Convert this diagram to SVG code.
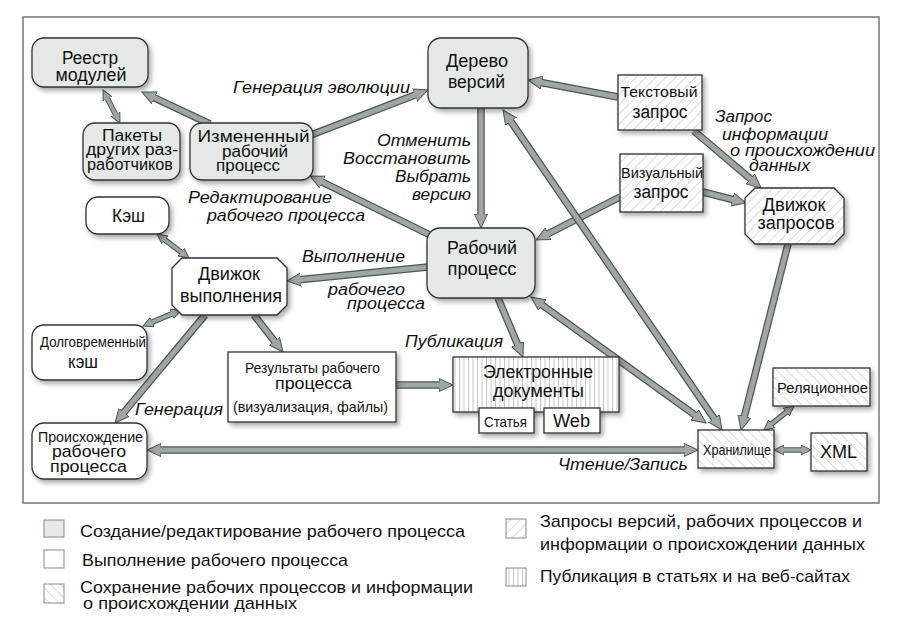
<svg xmlns="http://www.w3.org/2000/svg" width="900" height="618" viewBox="0 0 900 618">
<defs>
<style>
text{font-family:"Liberation Sans",Arial,sans-serif;fill:#111;}
.n{font-size:18px;text-anchor:middle;}
.nm{font-size:16px;text-anchor:middle;}
.ns{font-size:15px;text-anchor:middle;}
.lb{font-size:17px;font-style:italic;}
.lbs{font-size:16px;font-style:italic;}
.lg{font-size:17px;}
.box{stroke:#333;stroke-width:1.3;filter:url(#sh);}
.g{fill:#e4e8e6;}
.w{fill:#fff;}
.hq{fill:url(#hq);}
.hs{fill:url(#hs);}
.hp{fill:url(#hp);}
.ao{fill:none;stroke:#4e5652;stroke-width:7.5;}
.ai{fill:none;stroke:#9ea7a3;stroke-width:5;}
.so{fill:none;stroke:#4e5652;stroke-width:5.5;}
.si{fill:none;stroke:#9ea7a3;stroke-width:3.5;}
.lsq{stroke:#888;stroke-width:1;}
</style>
<filter id="sh" x="-20%" y="-20%" width="150%" height="160%">
<feDropShadow dx="2.5" dy="3" stdDeviation="2.5" flood-color="#000" flood-opacity="0.35"/>
</filter>
<pattern id="hq" width="7" height="7" patternUnits="userSpaceOnUse" patternTransform="rotate(45)">
<rect width="7" height="7" fill="#fff"/><line x1="0" y1="0" x2="0" y2="7" stroke="#b8b8b8" stroke-width="1"/>
</pattern>
<pattern id="hs" width="7" height="7" patternUnits="userSpaceOnUse" patternTransform="rotate(-45)">
<rect width="7" height="7" fill="#fff"/><line x1="0" y1="0" x2="0" y2="7" stroke="#b8b8b8" stroke-width="1"/>
</pattern>
<pattern id="hp" width="4.5" height="10" patternUnits="userSpaceOnUse">
<rect width="4.5" height="10" fill="#fff"/><line x1="0.5" y1="0" x2="0.5" y2="10" stroke="#c4c4c4" stroke-width="1"/>
</pattern>
<marker id="ah" markerUnits="userSpaceOnUse" markerWidth="16" markerHeight="16" refX="2" refY="7" orient="auto-start-reverse">
<path d="M0,0.5 L14,7 L0,13.5 z" fill="#9ea7a3" stroke="#4e5652" stroke-width="1"/>
</marker>
<marker id="as" markerUnits="userSpaceOnUse" markerWidth="12" markerHeight="12" refX="2" refY="5.5" orient="auto-start-reverse">
<path d="M0,0.5 L10,5.5 L0,10.5 z" fill="#9ea7a3" stroke="#4e5652" stroke-width="1"/>
</marker>
</defs>
<rect width="900" height="618" fill="#fff"/>
<rect x="23" y="17" width="856" height="486" fill="none" stroke="#777" stroke-width="1.5"/>

<g id="connectors">
<path class="ao" marker-end="url(#ah)" d="M210,124 L152.8,97.1"/><path class="ai" d="M210,124 L152.8,97.1"/>
<path class="so" marker-start="url(#as)" marker-end="url(#as)" d="M106.7,97.1 L116.3,115.9"/><path class="si" d="M106.7,97.1 L116.3,115.9"/>
<path class="ao" marker-end="url(#ah)" d="M311,135 L416.8,94.3"/><path class="ai" d="M311,135 L416.8,94.3"/>
<path class="ao" marker-end="url(#ah)" d="M430,235 L320.8,181.3"/><path class="ai" d="M430,235 L320.8,181.3"/>
<path class="ao" marker-end="url(#ah)" d="M481,108 L481,216"/><path class="ai" d="M481,108 L481,216"/>
<path class="ao" marker-end="url(#ah)" d="M618,97 L539.8,82.2"/><path class="ai" d="M618,97 L539.8,82.2"/>
<path class="ao" marker-end="url(#ah)" d="M694,131 L751.9,180.2"/><path class="ai" d="M694,131 L751.9,180.2"/>
<path class="ao" marker-end="url(#ah)" d="M620,197 L546.7,234.5"/><path class="ai" d="M620,197 L546.7,234.5"/>
<path class="ao" marker-end="url(#ah)" d="M703,192 L734.4,200"/><path class="ai" d="M703,192 L734.4,200"/>
<path class="ao" marker-start="url(#ah)" marker-end="url(#ah)" d="M509.8,119.9 L715.2,420.1"/><path class="ai" d="M509.8,119.9 L715.2,420.1"/>
<path class="ao" marker-start="url(#ah)" marker-end="url(#ah)" d="M540.7,304 L696.3,416"/><path class="ai" d="M540.7,304 L696.3,416"/>
<path class="ao" marker-end="url(#ah)" d="M788,244 L743.9,418.4"/><path class="ai" d="M788,244 L743.9,418.4"/>
<path class="so" marker-start="url(#as)" marker-end="url(#as)" d="M770.2,425 L787.8,411"/><path class="si" d="M770.2,425 L787.8,411"/>
<path class="so" marker-start="url(#as)" marker-end="url(#as)" d="M782,450 L803,450"/><path class="si" d="M782,450 L803,450"/>
<path class="ao" marker-start="url(#ah)" marker-end="url(#ah)" d="M159,450 L686,450"/><path class="ai" d="M159,450 L686,450"/>
<path class="ao" marker-end="url(#ah)" d="M428,267 L298.9,279.8"/><path class="ai" d="M428,267 L298.9,279.8"/>
<path class="ao" marker-end="url(#ah)" d="M498,298 L518.3,346"/><path class="ai" d="M498,298 L518.3,346"/>
<path class="ao" marker-end="url(#ah)" d="M396,385 L441,385"/><path class="ai" d="M396,385 L441,385"/>
<path class="ao" marker-end="url(#ah)" d="M254,315 L275.6,342.6"/><path class="ai" d="M254,315 L275.6,342.6"/>
<path class="ao" marker-end="url(#ah)" d="M205,315 L122.7,413.8"/><path class="ai" d="M205,315 L122.7,413.8"/>
<path class="so" marker-start="url(#as)" marker-end="url(#as)" d="M163.4,238.8 L182.6,253.2"/><path class="si" d="M163.4,238.8 L182.6,253.2"/>
<path class="so" marker-start="url(#as)" marker-end="url(#as)" d="M150.4,322.9 L173.6,313.1"/><path class="si" d="M150.4,322.9 L173.6,313.1"/>
</g>

<g id="labels">
<text class="lb" x="233" y="93" textLength="177" lengthAdjust="spacingAndGlyphs">Генерация эволюции</text>
<text class="lbs" x="377" y="146" textLength="94" lengthAdjust="spacingAndGlyphs">Отменить</text>
<text class="lbs" x="343" y="164" textLength="128" lengthAdjust="spacingAndGlyphs">Восстановить</text>
<text class="lbs" x="395" y="182" textLength="76" lengthAdjust="spacingAndGlyphs">Выбрать</text>
<text class="lbs" x="412" y="200" textLength="59" lengthAdjust="spacingAndGlyphs">версию</text>
<text class="lb" x="188" y="203" textLength="144" lengthAdjust="spacingAndGlyphs">Редактирование</text>
<text class="lb" x="207" y="221" textLength="158" lengthAdjust="spacingAndGlyphs">рабочего процесса</text>
<text class="lb" x="302" y="262" textLength="103" lengthAdjust="spacingAndGlyphs">Выполнение</text>
<text class="lbs" x="328" y="295" textLength="77" lengthAdjust="spacingAndGlyphs">рабочего</text>
<text class="lbs" x="347" y="309" textLength="78" lengthAdjust="spacingAndGlyphs">процесса</text>
<text class="lb" x="405" y="347" textLength="98" lengthAdjust="spacingAndGlyphs">Публикация</text>
<text class="lb" x="135" y="415" textLength="88" lengthAdjust="spacingAndGlyphs">Генерация</text>
<text class="lb" x="558" y="470" textLength="130" lengthAdjust="spacingAndGlyphs">Чтение/Запись</text>
<text class="lbs" x="715" y="122" textLength="57" lengthAdjust="spacingAndGlyphs">Запрос</text>
<text class="lbs" x="722" y="140" textLength="106" lengthAdjust="spacingAndGlyphs">информации</text>
<text class="lbs" x="730" y="156" textLength="145" lengthAdjust="spacingAndGlyphs">о происхождении</text>
<text class="lbs" x="749" y="171" textLength="61" lengthAdjust="spacingAndGlyphs">данных</text>
</g>

<g id="reestr"><rect class="box g" x="32" y="38" width="116" height="49" rx="12"/>
<text class="n" x="90" y="64" textLength="56" lengthAdjust="spacingAndGlyphs">Реестр</text>
<text class="n" x="91" y="81" textLength="71" lengthAdjust="spacingAndGlyphs">модулей</text></g>

<g id="pakety"><rect class="box g" x="83" y="123" width="97" height="57" rx="12"/>
<text class="nm" x="132" y="141" textLength="60" lengthAdjust="spacingAndGlyphs">Пакеты</text>
<text class="nm" x="132" y="155" textLength="92" lengthAdjust="spacingAndGlyphs">других раз-</text>
<text class="nm" x="130" y="170" textLength="86" lengthAdjust="spacingAndGlyphs">работчиков</text></g>

<g id="izm"><rect class="box g" x="190" y="123" width="123" height="57" rx="12"/>
<text class="nm" x="253.5" y="142" textLength="112" lengthAdjust="spacingAndGlyphs">Измененный</text>
<text class="nm" x="255" y="157" textLength="66" lengthAdjust="spacingAndGlyphs">рабочий</text>
<text class="nm" x="248" y="171" textLength="64" lengthAdjust="spacingAndGlyphs">процесс</text></g>

<g id="kesh"><rect class="box w" x="86" y="197" width="83" height="37" rx="12"/>
<text class="n" x="128.5" y="222" textLength="33" lengthAdjust="spacingAndGlyphs">Кэш</text></g>

<g id="derevo"><rect class="box g" x="428" y="38" width="100" height="70" rx="13"/>
<text class="n" x="477" y="67" textLength="62" lengthAdjust="spacingAndGlyphs">Дерево</text>
<text class="n" x="476.5" y="88" textLength="57" lengthAdjust="spacingAndGlyphs">версий</text></g>

<g id="textq"><rect class="box hq" x="618" y="75" width="84" height="55"/>
<text class="ns" x="659" y="97" textLength="77" lengthAdjust="spacingAndGlyphs">Текстовый</text>
<text class="n" x="660" y="118" textLength="55" lengthAdjust="spacingAndGlyphs">запрос</text></g>

<g id="visq"><rect class="box hq" x="620" y="154" width="83" height="58"/>
<text class="ns" x="662" y="178" textLength="82" lengthAdjust="spacingAndGlyphs">Визуальный</text>
<text class="n" x="661" y="198" textLength="55" lengthAdjust="spacingAndGlyphs">запрос</text></g>

<g id="qengine"><polygon class="box hq" points="755,188 834,188 844,198 844,234 834,244 755,244 745,234 745,198"/>
<text class="n" x="794" y="211" textLength="63" lengthAdjust="spacingAndGlyphs">Движок</text>
<text class="n" x="796" y="229" textLength="77" lengthAdjust="spacingAndGlyphs">запросов</text></g>

<g id="rabochiy"><rect class="box g" x="427" y="228" width="108" height="70" rx="13"/>
<text class="n" x="482" y="254" textLength="70" lengthAdjust="spacingAndGlyphs">Рабочий</text>
<text class="n" x="482" y="275" textLength="69" lengthAdjust="spacingAndGlyphs">процесс</text></g>

<g id="xengine"><polygon class="box w" points="182,258 277,258 287,268 287,305 277,315 182,315 172,305 172,268"/>
<text class="n" x="229" y="280" textLength="62" lengthAdjust="spacingAndGlyphs">Движок</text>
<text class="n" x="231" y="302" textLength="102" lengthAdjust="spacingAndGlyphs">выполнения</text></g>

<g id="dolgo"><rect class="box w" x="32" y="325" width="115" height="55" rx="12"/>
<text class="ns" x="93" y="347" textLength="106" lengthAdjust="spacingAndGlyphs">Долговременный</text>
<text class="n" x="83" y="368" textLength="30" lengthAdjust="spacingAndGlyphs">кэш</text></g>

<g id="results"><rect class="box w" x="228" y="352" width="168" height="70"/>
<text class="ns" x="312.5" y="373" textLength="135" lengthAdjust="spacingAndGlyphs">Результаты рабочего</text>
<text class="nm" x="313.5" y="389" textLength="77" lengthAdjust="spacingAndGlyphs">процесса</text>
<text class="ns" x="310.5" y="412" textLength="155" lengthAdjust="spacingAndGlyphs">(визуализация, файлы)</text></g>

<g id="proish"><rect class="box w" x="32" y="423" width="115" height="56" rx="12"/>
<text class="ns" x="90.5" y="442" textLength="105" lengthAdjust="spacingAndGlyphs">Происхождение</text>
<text class="nm" x="89" y="457" textLength="74" lengthAdjust="spacingAndGlyphs">рабочего</text>
<text class="nm" x="88.5" y="472" textLength="77" lengthAdjust="spacingAndGlyphs">процесса</text></g>

<g id="elektron"><rect class="box hp" x="453" y="357" width="166" height="55"/>
<text class="n" x="538" y="378" textLength="110" lengthAdjust="spacingAndGlyphs">Электронные</text>
<text class="n" x="538.5" y="397" textLength="91" lengthAdjust="spacingAndGlyphs">документы</text></g>

<g id="statya"><rect class="box w" x="479" y="408" width="55" height="25"/>
<text class="ns" x="505.5" y="427" textLength="43" lengthAdjust="spacingAndGlyphs">Статья</text></g>

<g id="web"><rect class="box w" x="544" y="408" width="56" height="25"/>
<text class="n" x="571.5" y="427" textLength="37" lengthAdjust="spacingAndGlyphs">Web</text></g>

<g id="hranilishe"><rect class="box hs" x="698" y="430" width="76" height="38"/>
<text class="ns" x="737" y="455" textLength="68" lengthAdjust="spacingAndGlyphs">Хранилище</text></g>

<g id="relac"><rect class="box hs" x="773" y="368" width="97" height="38"/>
<text class="ns" x="822.5" y="393" textLength="91" lengthAdjust="spacingAndGlyphs">Реляционное</text></g>

<g id="xml"><rect class="box hs" x="811" y="433" width="56" height="38"/>
<text class="n" x="838.5" y="458" textLength="37" lengthAdjust="spacingAndGlyphs">XML</text></g>

<g id="legend">
<rect class="lsq" x="44" y="520" width="20" height="17" fill="#e4e8e6"/>
<rect class="lsq" x="44" y="550" width="20" height="18" fill="#fff"/>
<rect class="lsq" x="44" y="584" width="20" height="19" fill="url(#hs)"/>
<rect class="lsq" x="506" y="519" width="20" height="19" fill="url(#hq)"/>
<rect class="lsq" x="506" y="568" width="20" height="18" fill="url(#hp)"/>
<text class="lg" x="80" y="537" textLength="385" lengthAdjust="spacingAndGlyphs">Создание/редактирование рабочего процесса</text>
<text class="lg" x="82" y="566" textLength="266" lengthAdjust="spacingAndGlyphs">Выполнение рабочего процесса</text>
<text class="lg" x="80" y="593" textLength="393" lengthAdjust="spacingAndGlyphs">Сохранение рабочих процессов и информации</text>
<text class="lg" x="83" y="609" textLength="214" lengthAdjust="spacingAndGlyphs">о происхождении данных</text>
<text class="lg" x="540" y="527" textLength="322" lengthAdjust="spacingAndGlyphs">Запросы версий, рабочих процессов и</text>
<text class="lg" x="540" y="550" textLength="325" lengthAdjust="spacingAndGlyphs">информации о происхождении данных</text>
<text class="lg" x="540" y="582" textLength="310" lengthAdjust="spacingAndGlyphs">Публикация в статьях и на веб-сайтах</text>
</g>
</svg>
